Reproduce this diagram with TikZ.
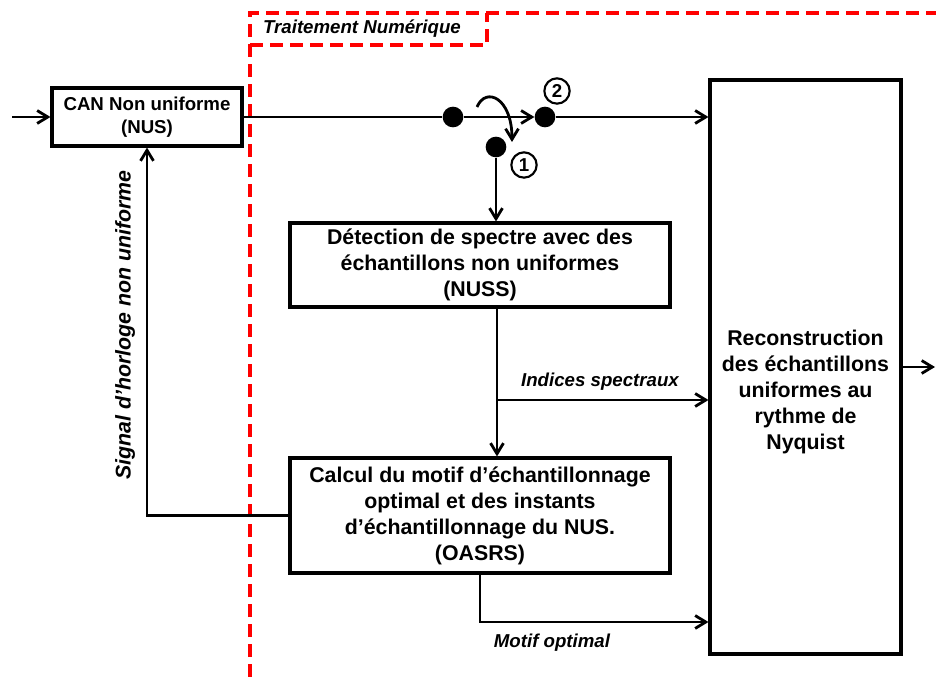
\documentclass[tikz,border=0pt]{standalone}
\usepackage{fontspec}
\setmainfont{Liberation Sans}
\usetikzlibrary{arrows.meta,positioning,calc}
\definecolor{zone}{HTML}{FF0000}

\begin{document}
\begin{tikzpicture}[x=0.75pt,y=-0.75pt,
  blk/.style={draw,line width=2.3pt,align=center,inner sep=0pt},
  big/.style={font=\fontsize{16}{19.5}\selectfont\bfseries},
  small/.style={font=\fontsize{14}{17.5}\selectfont\bfseries},
  lbl/.style={font=\fontsize{14}{17}\selectfont\bfseries\itshape},
  arr/.style={-{Straight Barb[length=2.8mm,width=3.4mm]},line width=2.1pt},
  plain/.style={line width=2.1pt},
  dot/.style={circle,fill,inner sep=0pt,minimum size=15.5pt},
  num/.style={circle,draw,line width=1.6pt,inner sep=0pt,minimum size=19pt,font=\fontsize{14}{14}\selectfont\bfseries},
  zoneline/.style={draw=zone,line width=2.3pt,dash pattern=on 10pt off 5pt}]
\useasboundingbox (0,0) rectangle (936,677);
% zone numerique
\draw[zoneline] (250,677) -- (250,13) -- (936,13);
\draw[zoneline] (250,45) -- (487,45) -- (487,13);
\node[lbl] (zl) at (362,29) {Traitement Numérique};
% blocs
\node[blk,small,minimum width=142.5pt,minimum height=43.5pt] (can) at (147,117) {CAN Non uniforme\\(NUS)};
\node[blk,big,minimum width=285pt,minimum height=63pt] (det) at (480,265) {Détection de spectre avec des\\échantillons non uniformes\\(NUSS)};
\node[blk,big,minimum width=285pt,minimum height=86.25pt] (calc) at (480,515.5) {Calcul du motif d’échantillonnage\\optimal et des instants\\d’échantillonnage du NUS.\\(OASRS)};
\node[blk,minimum width=143.25pt,minimum height=430.5pt] (rec) at (805.5,367) {};
\node[big,align=center] (rectxt) at (805.5,392) {Reconstruction\\des échantillons\\uniformes au\\rythme de\\Nyquist};
% commutateur
\node[dot] (dA) at (453,117) {};
\node[dot] (d2) at (545,117) {};
\node[dot] (d1) at (496,147) {};
\node[num] (n2) at (557,91) {2};
\node[num] (n1) at (524,165) {1};
\coordinate (swA) at (477,107);
\coordinate (swB) at (512,142);
\draw[arr] (swA) .. controls (486,86) and (512,98) .. (swB);
% liaisons
\coordinate (in) at (12,117);
\coordinate (out) at (935,367);
\coordinate (br) at (497,400);
\coordinate (mo) at (480,622);
\draw[arr] (in) -- (can.west);
\draw[plain] (can.east |- dA) -- (dA);
\draw[arr] (dA) -- (d2);
\draw[arr] (d2) -- (d2 -| rec.west);
\draw[arr] (d1) -- (d1 |- det.north);
\draw[plain] (br |- det.south) -- (br);
\draw[arr] (br) -- (br |- calc.north);
\draw[arr] (br) -- (br -| rec.west);
\draw[arr] (calc.south) -- (mo) -- (mo -| rec.west);
\draw[arr] (calc.west) -- (calc.west -| can.south) -- (can.south);
\draw[arr] (rec.east |- out) -- (out);
% etiquettes
\node[lbl] (ind) at (600,382) {Indices spectraux};
\node[lbl] (mot) at (552,643) {Motif optimal};
\node[big,font=\fontsize{16}{19.5}\selectfont\bfseries\itshape,rotate=90] (clk) at (125,325) {Signal d’horloge non uniforme};
\end{tikzpicture}
\end{document}
